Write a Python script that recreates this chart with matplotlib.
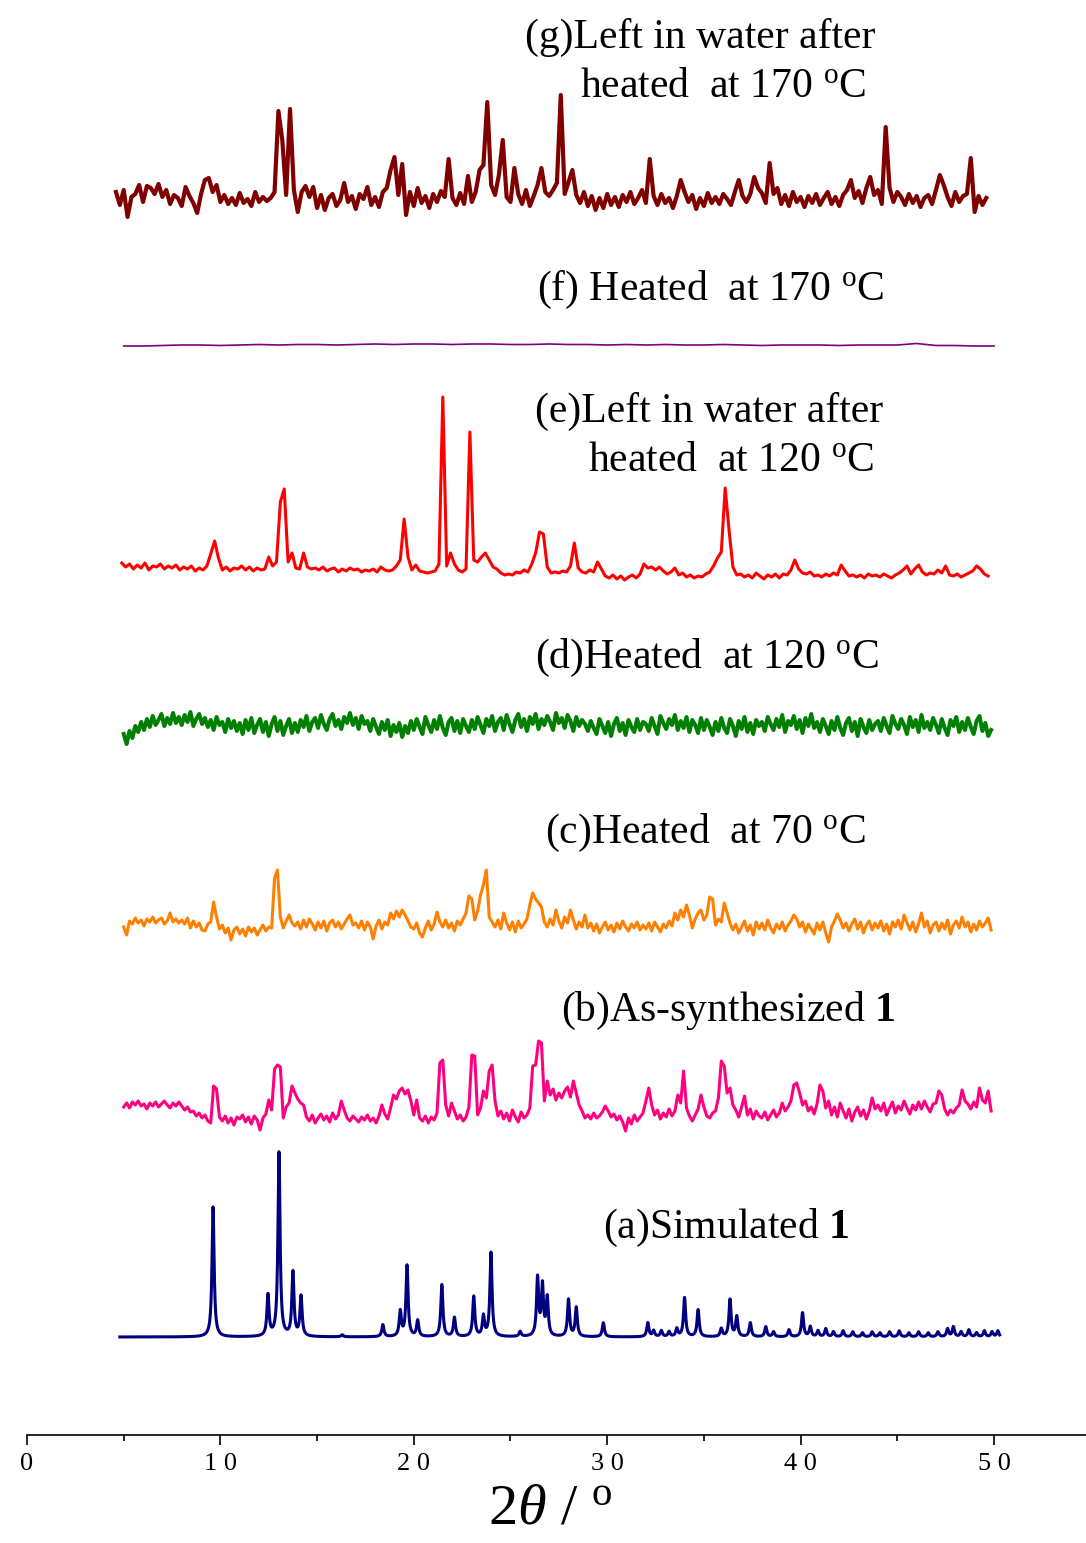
import numpy as np
import matplotlib
matplotlib.use('Agg')
import matplotlib.pyplot as plt

plt.rcParams['font.family'] = ['Liberation Serif', 'DejaVu Serif']
plt.rcParams['mathtext.fontset'] = 'custom'
plt.rcParams['mathtext.rm'] = 'Liberation Serif'
plt.rcParams['mathtext.it'] = 'Liberation Serif:italic'
plt.rcParams['mathtext.bf'] = 'Liberation Serif:bold'

# (g) left in water after heated at 170 C  (2theta from 4.6, step 0.2)
g_start, g_step = 4.6, 0.2
g_int = [8, -5, 10, -17, 3, 6, 15, -2, 14, 12,
         6, 16, 3, 10, -4, 5, 2, -6, 13, 4,
         -3, -13, 6, 20, 22, 8, 15, -2, 5, -4,
         2, -5, 7, -3, 1, -6, 8, -2, 3, -1,
         2, 8, 89, 60, 5, 91, 10, -12, 8, 14,
         3, 13, -8, 5, -10, 2, 6, -6, 0, 17,
         -2, 4, -9, 6, 1, 13, -5, 3, -7, 8,
         12, 30, 43, 5, 36, -15, 8, -6, 12, -3,
         4, -8, 6, -2, 9, 3, 41, 2, -5, 7,
         -4, 24, -2, 8, 30, 35, 98, 15, 5, 25,
         60, 3, -2, 32, 6, -4, 10, -6, 4, 15,
         32, 8, 4, 10, 17, 105, 6, 18, 30, 5,
         -3, 8, -6, 4, -10, 2, -8, 6, -5, 3,
         -7, 5, -2, 8, -4, 2, 10, -3, 41, 4,
         -5, 6, -3, 2, -8, 4, 20, 8, -2, 5,
         -9, 2, -6, 7, -3, 3, -4, 6, 1, -5,
         8, 20, 4, -2, 6, 23, 12, 7, -3, 37,
         6, 12, -4, 5, -6, 8, -2, 3, -7, 4,
         -3, 6, -5, 2, 8, -4, 3, -6, 5, 10,
         20, 2, 9, -3, 12, 23, 5, 10, -4, 73,
         12, -2, 8, 3, -5, 6, -3, 4, -7, 2,
         5, -4, 10, 25, 15, 3, -6, 8, -2, 4,
         6, 42, -12, 4, -5, 2]

# (f) heated at 170 C  (from 5.0, step 1.0)
f_start, f_step = 5.0, 1.0
f_int = [-1, -1, -0.5, 0, 0, -0.5, 0, 0.5, 0, 0.5,
         0.5, 0, 0.5, 1, 0.5, 1, 1, 0.5, 1, 1,
         0.5, 0.5, 1, 0.5, 0.5, 0, 0.5, 0, 0.5, 0,
         0, 0.5, 0, -0.5, 0, 0, 0, -0.5, 0, 0,
         0, 1.5, -0.5, -0.5, -1, -1]

# (e) left in water after heated at 120 C  (from 4.9, step 0.2)
e_start, e_step = 4.9, 0.2
e_int = [9, 5, 8, 3, 7, 4, 9, 2, 6, 5,
         8, 3, 6, 4, 7, 2, 5, 3, 6, 1,
         4, 2, 6, 18, 31, 14, 2, 5, 1, 4,
         3, 6, 2, 5, 1, 4, 2, 3, 15, 6,
         10, 70, 83, 10, 19, 4, 3, 19, 5, 3,
         4, 2, 5, 1, 3, 4, 0, 3, 1, 4,
         2, 3, 0, 2, 1, 3, 0, 5, 2, 1,
         2, 6, 12, 53, 15, 2, 7, 1, 0, -1,
         0, 1, 8, 175, 6, 19, 8, 2, 0, 3,
         140, 12, 10, 15, 19, 12, 5, 3, -1, -3,
         -2, -3, 0, -1, 2, 0, 8, 19, 40, 38,
         5, -1, 0, -1, 1, 0, 6, 29, 4, 0,
         -1, 2, 0, 10, 3, -4, -6, -3, -7, -4,
         -8, -5, -3, -6, -2, 8, 4, 5, 2, 5,
         1, -2, 0, 4, -3, -1, -5, -3, -6, -4,
         -5, -2, 0, 6, 14, 20, 84, 42, 5, -3,
         -2, -5, -3, -6, -1, -4, -7, -3, -5, -2,
         -6, -2, -3, 2, 12, 3, -1, -2, 0, -4,
         -3, -5, -2, -4, -1, -3, 7, 1, -4, -3,
         -5, -3, -6, -2, -4, -3, -5, -2, -4, -6,
         -3, -1, 2, 6, -2, 3, 7, 0, -3, -1,
         -2, 2, -1, 6, -3, -4, -2, -5, -3, -1,
         1, 6, 3, -2, -4]

# (d) heated at 120 C  (from 5.0, step 0.15)
d_start, d_step = 5.0, 0.15
d_int = [-6, -16, -3, -10, 2, -4, 6, -2, 9, 1, 12, 3, 8, 14, 2, 10, 4, 15, 5, 11,
         3, 13, 6, 16, 2, 9, 14, 4, 10, 1, 8, -2, 11, 3, 6, -4, 9, 0, 7, -3,
         5, -6, 8, -2, 10, -5, 3, 9, -4, 6, -8, 4, 11, -3, 7, -7, 2, 9, -5, 5,
         -4, 8, 1, 12, -3, 6, 10, 0, 13, 4, -2, 9, 14, 2, 8, -1, 11, 5, 15, 3,
         10, -1, 12, 4, 7, -3, 9, 1, -6, 6, -2, 8, -8, 3, -4, 5, -9, 2, -5, 7,
         -2, 9, 1, -6, 11, 3, -4, 8, -1, 12, 0, -7, 6, 10, -3, 7, -5, 9, 2, -4,
         8, -1, 11, 3, -5, 9, 2, 12, -3, 6, 10, -2, 13, 4, -4, 8, 14, 1, 9, -3,
         11, 4, 14, -1, 9, 3, 12, 6, -2, 15, 5, 10, 0, 13, 7, -3, 11, 2, 8, 4,
         -3, 7, 0, -6, 9, 2, -5, 6, -8, 4, 10, -3, 5, -7, 8, 1, -4, 9, -2, 6,
         4, -3, 10, 2, -6, 12, 5, -1, 9, 3, 13, -2, 7, 0, 11, -4, 8, 3, -5, 10,
         -2, 8, 1, -7, 6, -3, 10, 0, -5, 9, 2, -8, 7, -1, 11, -4, 5, -6, 8, 2,
         6, -3, 11, 4, -2, 9, 1, 13, -4, 7, 3, 12, -1, 8, -5, 10, 2, 14, 0, 6,
         -4, 9, 2, -6, 7, -2, 11, 0, -7, 5, 10, -3, 6, -8, 9, 1, -5, 8, -2, 4,
         7, -3, 10, 2, -5, 12, 4, -1, 9, 3, -6, 11, 1, 8, -4, 13, 0, 6, -2, 10,
         3, -5, 9, 0, -7, 8, 2, 11, -4, 6, -2, 10, 1, -6, 7, 12, -3, 5, -8, -2]

# (c) heated at 70 C  (from 5.0, step 0.15)
c_start, c_step = 5.0, 0.15
c_int = [-2, -10, 4, 1, 7, 2, 5, -1, 6, 3, 8, 2, 5, 7, 1, 4, 12, 3, 6, 2,
         5, 1, 7, -3, 4, -2, 2, -5, -6, 1, 3, 23, 8, -4, 0, -8, -3, -15, -5, -2,
         -9, -4, -11, -2, -7, -3, -10, -5, 0, -6, -2, -3, 47, 55, 8, -3, 4, 10, 2, -1,
         3, -4, 5, -2, 6, 1, -5, 3, -3, 4, -6, 2, 5, -2, 3, -4, 1, 6, 10, 0,
         2, -3, 4, -5, 3, -2, -14, -1, 5, -4, 3, 0, 12, 6, 14, 8, 15, 10, 4, -2,
         -4, 2, -8, -12, -3, 4, -5, 1, 13, 3, -2, 5, -3, 2, -6, 4, 0, 6, 12, 29,
         26, 5, 14, 30, 40, 55, 8, 3, -2, 5, -4, 12, 2, -5, 3, -7, 4, -3, 1, 6,
         20, 32, 26, 22, 18, 3, -2, 6, 0, 15, 4, -3, 8, 2, 15, 5, -4, 3, -2, 10,
         -3, 2, -6, 1, -8, -2, 3, -5, 0, -7, 2, -4, 4, -2, -6, 1, -3, 3, -5, 0,
         -4, 2, -6, 3, -2, -7, 1, -3, 4, -1, 12, 5, 15, 8, 20, 10, -3, 6, 12, 15,
         5, 10, 28, 26, 0, 6, 3, 22, 12, 2, -5, 1, -8, -2, 4, -6, 0, -10, 3, -4,
         2, -5, 5, -3, -8, 1, -4, 3, -6, 0, 4, 10, 6, -2, 3, -7, 1, -4, -9, 2,
         -5, 3, -8, -17, -2, 4, 11, 5, -3, 2, -6, 1, 6, -4, 3, -8, 0, 4, -5, 2,
         -3, 4, -6, 1, -9, 3, -2, 5, -4, 10, 2, -5, 3, -7, 1, 12, -2, 4, -8, 0,
         3, -6, 2, -4, 5, -9, 0, 4, -3, 8, -2, 3, -7, 1, -5, 4, -2, 2, 7, -5]

# (b) as-synthesized 1  (from 5.0, step 0.15)
b_start, b_step = 5.0, 0.15
b_int = [6, 10, 5, 11, 8, 12, 7, 9, 4, 10, 7, 11, 6, 9, 12, 8, 5, 10, 7, 11,
         7, 3, 6, 1, 2, -3, 0, -5, -2, -8, -10, 27, 24, -4, -8, -3, -10, -5, -12, -4,
         -6, -2, -9, -4, -11, -3, -7, -17, -5, -1, 13, 3, 44, 48, 46, -5, 6, 10, 27, 20,
         14, 10, 8, -4, -8, -2, -10, -5, -1, -7, -3, -9, 0, -6, -2, 12, 3, -5, -8, -3,
         -6, -9, -4, -7, -2, -8, -5, -10, -3, 8, -1, -6, 5, 18, 14, 22, 25, 19, 23, 12,
         -2, 13, -5, -8, -3, -10, -4, -7, 0, 50, 53, 8, -3, 10, 2, -6, -2, -8, -4, 6,
         58, 57, -2, 5, 22, 15, 42, 48, 12, -3, 2, -6, 0, -8, 3, -4, -9, 1, -5, -2,
         5, 47, 48, 72, 70, 12, 32, 18, 24, 13, 20, 15, 22, 26, 16, 32, 20, 8, 2, -5,
         -2, -6, 0, -5, -3, 1, 7, 2, -4, -1, -7, -3, -9, -18, -5, -11, -2, -8, -4, 0,
         12, 25, 8, -2, 3, -6, 0, -4, 4, -3, 2, 18, 10, 42, 5, -3, -8, -2, 4, 18,
         6, -3, -5, 0, 2, 15, 52, 47, 20, 25, 8, 3, -4, 6, 17, -2, 4, -6, 2, -3,
         -5, 1, -7, -2, 3, -4, 0, 10, 2, 6, 12, 28, 30, 20, 8, 12, 2, 6, -1, 9,
         28, 22, 5, 12, -2, 6, -4, 10, 2, -5, 4, -8, 1, 6, -3, 3, -6, 2, 15, 4,
         8, 2, 10, -2, 5, 11, 0, 7, 3, 12, 5, -1, 8, 3, 11, 4, 12, 6, 1, 9,
         10, 22, 18, 4, -2, 3, 0, 5, 8, 23, 12, 9, 4, 11, 6, 25, 13, 10, 22, 2]

# (a) simulated 1: reflection positions and heights
sim_pos = [9.62, 12.46, 13.03, 13.75, 14.17, 16.3, 18.4, 19.3, 19.65, 20.2,
           21.45, 22.1, 23.1, 23.6, 23.99, 25.5, 26.4, 26.65, 26.9, 28.0,
           28.4, 29.8, 32.1, 32.4, 32.8, 33.2, 33.6, 34.0, 34.7, 35.9,
           36.35, 36.7, 37.4, 38.2, 38.6, 39.4, 40.1, 40.5, 40.9, 41.3,
           41.7, 42.2, 42.7, 43.2, 43.7, 44.1, 44.6, 45.1, 45.6, 46.1,
           46.6, 47.1, 47.6, 47.9, 48.3, 48.7, 49.1, 49.5, 49.9, 50.2]
sim_h = [130, 41, 184, 64, 40, 2, 12, 25, 71, 16,
         52, 19, 40, 20, 84, 5, 58, 50, 38, 37,
         29, 14, 14, 6, 6, 5, 8, 39, 27, 8,
         37, 20, 14, 10, 5, 7, 24, 10, 6, 8,
         5, 6, 5, 4, 5, 4, 5, 6, 4, 5,
         4, 5, 8, 10, 5, 7, 4, 6, 5, 6]
sim_range = (4.8, 50.3)

# baselines of the stacked traces (in figure pixel units above the axis line)
offsets = {'a': 98, 'b': 322, 'c': 510, 'd': 707, 'e': 863, 'f': 1090, 'g': 1235}

W, H = 1086, 1543
fig = plt.figure(figsize=(W / 100, H / 100), dpi=100)
x0_px, x50_px, axis_y = 27, 994, 1435
ppu = (x50_px - x0_px) / 50.0
ax = fig.add_axes([x0_px / W, (H - axis_y) / H, 1 - x0_px / W, axis_y / H])
ax.set_xlim(0, (W - x0_px) / ppu)
ax.set_ylim(0, axis_y)


def trace(start, step, vals):
    x = start + step * np.arange(len(vals))
    return x, np.asarray(vals, dtype=float)


series = [
    ('g', g_start, g_step, g_int, '#800000', 3.0),
    ('f', f_start, f_step, f_int, '#800080', 1.2),
    ('e', e_start, e_step, e_int, '#ff0000', 2.2),
    ('d', d_start, d_step, d_int, '#008000', 2.9),
    ('c', c_start, c_step, c_int, '#ff8000', 2.2),
    ('b', b_start, b_step, b_int, '#ff0080', 2.2),
]
for key, s0, st, vals, col, lw in series:
    x, y = trace(s0, st, vals)
    ax.plot(x, y + offsets[key], color=col, lw=lw)

# simulated pattern drawn from the reflection list
xs = np.arange(sim_range[0], sim_range[1], 0.005)
ys = np.zeros_like(xs)
for p, h in zip(sim_pos, sim_h):
    ys += h / (1 + ((xs - p) / 0.065) ** 2)
ax.plot(xs, ys + offsets['a'], color='#000080', lw=2.2)

for s in ['left', 'right', 'top']:
    ax.spines[s].set_visible(False)
ax.spines['bottom'].set_linewidth(1.2)
ax.set_yticks([])
ax.set_xticks([0, 10, 20, 30, 40, 50])
ax.set_xticklabels(['0', '1 0', '2 0', '3 0', '4 0', '5 0'], fontsize=19)
ax.set_xticks([5, 15, 25, 35, 45], minor=True)
ax.tick_params(axis='x', which='major', length=7, width=1.2, direction='out', pad=6)
ax.tick_params(axis='x', which='minor', length=4, width=1.2, direction='out')

o = '$^{\\rm o}$'
labels = [
    (525, 37, '(g)Left in water after'),
    (580, 87, 'heated  at 170 ' + o + 'C'),
    (537, 290, '(f) Heated  at 170 ' + o + 'C'),
    (535, 411, '(e)Left in water after'),
    (588, 461, 'heated  at 120 ' + o + 'C'),
    (535, 658, '(d)Heated  at 120 ' + o + 'C'),
    (545, 833, '(c)Heated  at 70 ' + o + 'C'),
    (561, 1011, '(b)As-synthesized $\\mathbf{1}$'),
    (603, 1228, '(a)Simulated $\\mathbf{1}$'),
]
for px, py, txt in labels:
    fig.text(px / W, 1 - py / H, txt, fontsize=30, ha='left', va='center')

fig.text(550 / W, 1 - 1510 / H, '2$\\it{\\theta}$ / ' + o, fontsize=42,
         ha='center', va='center')

fig.savefig('out.png', dpi=100)
